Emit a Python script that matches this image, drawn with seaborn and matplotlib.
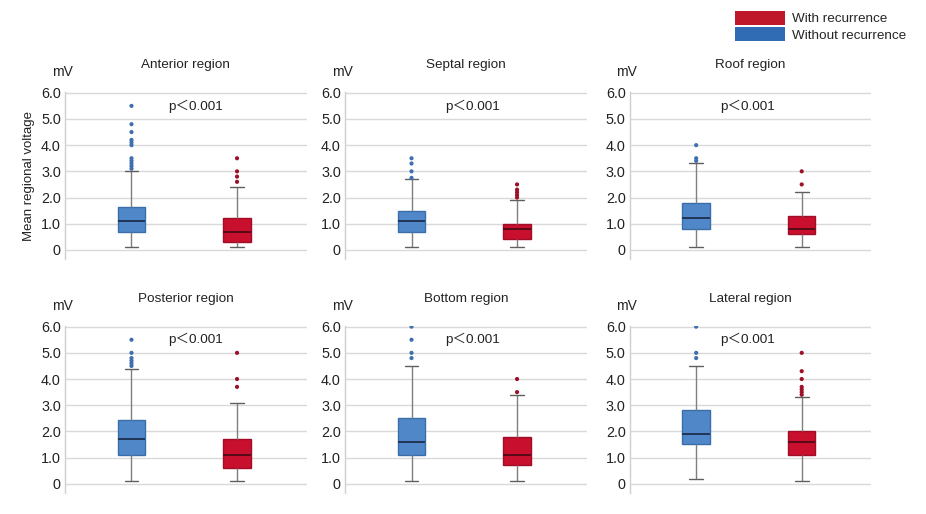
import pandas as pd
import matplotlib.pyplot as plt
import seaborn as sns
from matplotlib.patches import Patch

# Box summaries: [lower whisker, Q1, median, Q3, upper whisker]
regions = [
    "Anterior region", "Septal region", "Roof region",
    "Posterior region", "Bottom region", "Lateral region",
]
groups = ["Without recurrence", "With recurrence"]

without_box = [
    [0.1, 0.7, 1.1, 1.65, 3.0],
    [0.1, 0.7, 1.1, 1.5, 2.7],
    [0.1, 0.8, 1.2, 1.8, 3.3],
    [0.1, 1.1, 1.7, 2.45, 4.4],
    [0.1, 1.1, 1.6, 2.5, 4.5],
    [0.2, 1.5, 1.9, 2.8, 4.5],
]
with_box = [
    [0.1, 0.3, 0.7, 1.2, 2.4],
    [0.1, 0.4, 0.8, 1.0, 1.9],
    [0.1, 0.6, 0.8, 1.3, 2.2],
    [0.1, 0.6, 1.1, 1.7, 3.1],
    [0.1, 0.7, 1.1, 1.8, 3.4],
    [0.1, 1.1, 1.6, 2.0, 3.3],
]

without_out = [
    [3.1, 3.2, 3.3, 3.4, 3.5, 4.0, 4.1, 4.2, 4.5, 4.8, 5.5],
    [2.75, 3.0, 3.3, 3.5],
    [3.4, 3.5, 4.0],
    [4.5, 4.6, 4.7, 4.8, 5.0, 5.5],
    [4.8, 5.0, 5.5, 6.0],
    [4.8, 5.0, 6.0],
]
with_out = [
    [2.6, 2.8, 3.0, 3.5],
    [2.0, 2.1, 2.2, 2.3, 2.5],
    [2.5, 3.0],
    [3.7, 4.0, 5.0],
    [3.5, 4.0],
    [3.4, 3.5, 3.6, 3.7, 4.0, 4.3, 5.0],
]

p_text = "p\uff1c0.001"
y_ticks = [0, 1, 2, 3, 4, 5, 6]
y_tick_labels = ["0", "1.0", "2.0", "3.0", "4.0", "5.0", "6.0"]

box_rows = []
out_rows = []
for i, region in enumerate(regions):
    for v in without_box[i]:
        box_rows.append((region, groups[0], v))
    for v in with_box[i]:
        box_rows.append((region, groups[1], v))
    for v in without_out[i]:
        out_rows.append((region, groups[0], v))
    for v in with_out[i]:
        out_rows.append((region, groups[1], v))

box_df = pd.DataFrame(box_rows, columns=["region", "group", "value"])
out_df = pd.DataFrame(out_rows, columns=["region", "group", "value"])

sns.set_theme(style="white")
plt.rcParams["font.family"] = ["Liberation Sans", "Noto Sans CJK SC", "DejaVu Sans"]

fill_colors = {groups[0]: "#4f87c9", groups[1]: "#c8102e"}
edge_colors = {groups[0]: "#3b6ea8", groups[1]: "#a10c26"}
median_colors = {groups[0]: "#1c2f4e", groups[1]: "#4f0a14"}
dot_colors = {groups[0]: "#3e6fae", groups[1]: "#9e1028"}
legend_colors = {groups[1]: "#c0182b", groups[0]: "#2f6cb4"}

fig = plt.figure(figsize=(9.26, 5.14), dpi=100)

lefts = [0.0702, 0.3726, 0.680]
bottoms = [0.496, 0.041]
width = 0.261
height = 0.325
p_x = [0.61, 0.58, 0.49, 0.61, 0.58, 0.49]

for i, region in enumerate(regions):
    row, col = divmod(i, 3)
    ax = fig.add_axes([lefts[col], bottoms[row], width, height])

    sub = box_df[box_df["region"] == region]
    sns.boxplot(
        data=sub,
        x="group",
        y="value",
        hue="group",
        order=groups,
        hue_order=groups,
        palette=fill_colors,
        width=0.26,
        whis=(0, 100),
        showfliers=False,
        linewidth=1,
        legend=False,
        ax=ax
    )

    for container, g in zip(ax.containers, groups):
        for b in container.boxes:
            b.set_edgecolor(edge_colors[g])
            b.set_facecolor(fill_colors[g])
        for m in container.medians:
            m.set_color(median_colors[g])
            m.set_linewidth(1.3)
        for w in container.whiskers:
            w.set_color("#7f7f7f")
        for c in container.caps:
            c.set_color("#5f5f5f")

    osub = out_df[out_df["region"] == region]
    sns.stripplot(
        data=osub,
        x="group",
        y="value",
        hue="group",
        order=groups,
        hue_order=groups,
        palette=dot_colors,
        jitter=False,
        size=3,
        linewidth=0,
        legend=False,
        ax=ax
    )

    ax.set_xlim(-0.63, 1.66)
    ax.set_ylim(-0.35, 6.03)
    ax.set_yticks(y_ticks)
    ax.set_yticklabels(y_tick_labels, fontsize=10.4, color="#222222")
    ax.set_xticks([])
    ax.set_xlabel("")
    ax.set_ylabel("")
    ax.tick_params(axis="y", length=0, pad=3)
    ax.yaxis.grid(True, color="#d9d9d9", linewidth=1)
    ax.set_axisbelow(True)
    for side in ["top", "right", "bottom"]:
        ax.spines[side].set_visible(False)
    ax.spines["left"].set_color("#cfcfcf")
    ax.spines["left"].set_linewidth(1)

    ax.set_title(region, fontsize=9.7, pad=17, color="#222222")
    ax.text(-0.012, 1.117, "mV", transform=ax.transAxes,
            ha="center", va="center", fontsize=10, color="#222222")
    ax.text(p_x[i], 5.5, p_text, ha="center", va="center",
            fontsize=9.7, color="#222222")

    if i == 0:
        ax.set_ylabel("Mean regional voltage", fontsize=9.5,
                      labelpad=4, color="#222222")

handles = [
    Patch(facecolor=legend_colors[groups[1]], edgecolor="none", label="With recurrence"),
    Patch(facecolor=legend_colors[groups[0]], edgecolor="none", label="Without recurrence"),
]
fig.legend(
    handles=handles,
    loc="upper left",
    bbox_to_anchor=(0.7937, 0.979),
    frameon=False,
    fontsize=9.7,
    handlelength=3.7,
    handleheight=1.2,
    handletextpad=0.55,
    labelspacing=0.15,
    borderpad=0,
    borderaxespad=0
)

plt.savefig("out.png", dpi=100)
plt.close()
